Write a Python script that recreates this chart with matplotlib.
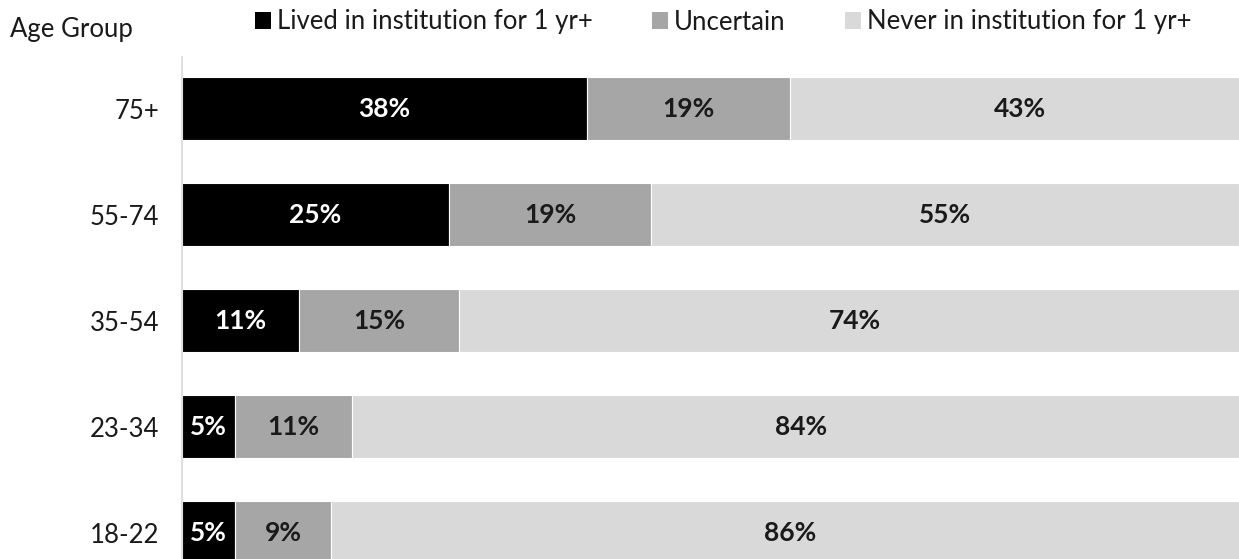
import matplotlib
matplotlib.use("Agg")
import matplotlib.pyplot as plt
from matplotlib.patches import Patch

plt.rcParams['font.family'] = ['Lato', 'DejaVu Sans']

groups = ["18-22", "23-34", "35-54", "55-74", "75+"]
lived = [5, 5, 11, 25, 38]
uncertain = [9, 11, 15, 19, 19]
never = [86, 84, 74, 55, 43]

series_names = ["Lived in institution for 1 yr+", "Uncertain", "Never in institution for 1 yr+"]
colors = ["#000000", "#a6a6a6", "#d9d9d9"]
label_colors = ["white", "#1a1a1a", "#1a1a1a"]

W, H = 1239, 559
fig = plt.figure(figsize=(W / 100, H / 100), dpi=100)
ax = fig.add_axes([181.5 / W, 0, (W - 181.5) / W, (H - 57) / H])

fs = 18.5
ypos = list(range(len(groups)))
left = [0] * len(groups)
for vals, col, lc in zip([lived, uncertain, never], colors, label_colors):
    bars = ax.barh(ypos, vals, left=left, height=0.595, color=col,
                   edgecolor="white", linewidth=0.8)
    for b, v in zip(bars, vals):
        ax.text(b.get_x() + b.get_width() / 2, b.get_y() + b.get_height() / 2,
                f"{v}%", ha="center", va="center", color=lc,
                fontsize=19, fontweight="bold")
    left = [l + v for l, v in zip(left, vals)]

ax.set_xlim(0, (W - 181.5) / 10.68)
ax.set_ylim(-0.25, 4.486)
ax.set_yticks(ypos)
ax.set_yticklabels(groups, fontsize=fs, color="#1a1a1a")
ax.tick_params(axis="y", length=0, pad=16)
ax.set_xticks([])
for s in ["top", "right", "bottom"]:
    ax.spines[s].set_visible(False)
ax.spines["left"].set_color("#d9d9d9")
ax.spines["left"].set_linewidth(1.2)

fig.text(10 / W, 1 - 29 / H, "Age Group", fontsize=fs, color="#1a1a1a",
         ha="left", va="center")

handles = [Patch(facecolor=c, edgecolor="none") for c in colors]
fig.legend(handles, series_names, loc="center left", ncol=3,
           bbox_to_anchor=(255 / W, 1 - 22 / H), frameon=False,
           fontsize=fs, handlelength=0.62, handleheight=0.62,
           handletextpad=0.24, columnspacing=2.3, borderaxespad=0,
           borderpad=0, labelcolor="#1a1a1a")

fig.savefig("out.png", dpi=100)
